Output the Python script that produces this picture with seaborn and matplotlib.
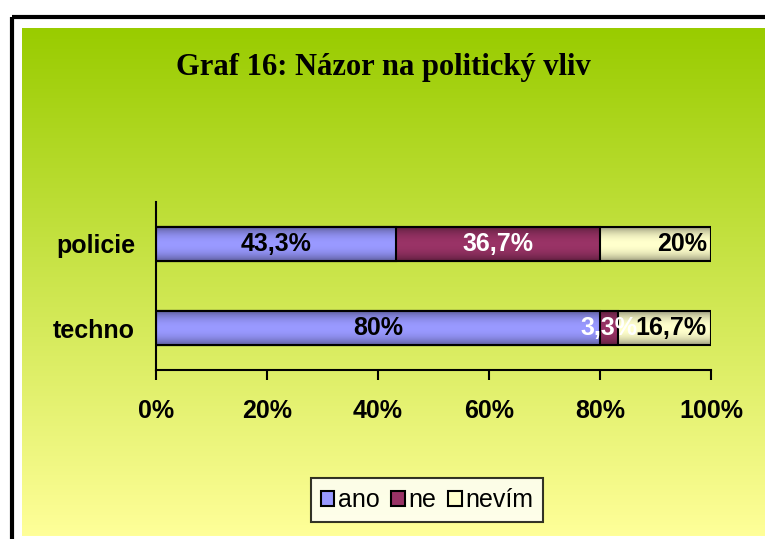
import numpy as np
import pandas as pd
import matplotlib
matplotlib.use('Agg')
import matplotlib.pyplot as plt
import seaborn as sns
from matplotlib.patches import Rectangle, Patch

categories = ['policie', 'techno']
series = ['ano', 'ne', 'nevím']
ano = [43.3, 80.0]
ne = [36.7, 3.3]
nevim = [20.0, 16.7]
labels_ano = ['43,3%', '80%']
labels_ne = ['36,7%', '3,3%']
labels_nevim = ['20%', '16,7%']
xticks = [0, 20, 40, 60, 80, 100]
xtick_labels = ['0%', '20%', '40%', '60%', '80%', '100%']
title = 'Graf 16: Názor na politický vliv'

colors = {'ano': '#9999FF', 'ne': '#993366', 'nevím': '#FFFFCC'}
text_colors = {'ano': 'black', 'ne': 'white', 'nevím': 'black'}
bar_w = 0.4

sns.set_style('white')
plt.rcParams['font.family'] = ['Liberation Sans', 'DejaVu Sans']
plt.rcParams.update({'text.color': 'black', 'xtick.color': 'black',
                     'ytick.color': 'black', 'axes.labelcolor': 'black'})

df = pd.DataFrame({'kategorie': categories, 'ano': ano, 'ne': ne, 'nevím': nevim})
df['c_ano'] = df['ano']
df['c_ne'] = df['ano'] + df['ne']
df['c_nevím'] = df['c_ne'] + df['nevím']
txt = {'ano': labels_ano, 'ne': labels_ne, 'nevím': labels_nevim}

fig = plt.figure(figsize=(7.65, 5.39), dpi=100)
fig.patch.set_facecolor('white')

# background: black frame + green->yellow gradient (pixel coords)
bg = fig.add_axes([0, 0, 1, 1], zorder=-10)
bg.set_xlim(0, 765)
bg.set_ylim(539, 0)
bg.axis('off')
top = np.array([0x99, 0xCC, 0x00]) / 255
bot = np.array([0xFF, 0xFF, 0x99]) / 255
t = np.linspace(0, 1, 256)[:, None]
grad = (top[None, :] * (1 - t) + bot[None, :] * t)[:, None, :]
bg.imshow(grad, extent=(22, 766, 536, 28), aspect='auto', interpolation='bilinear')
bg.add_patch(Rectangle((12, 16.5), 770, 540, fill=False, edgecolor='black', lw=3))

ax = fig.add_axes([156 / 765, 169 / 539, 555 / 765, 168 / 539])
ax.set_facecolor('none')

# stacked bars drawn as overlaid cumulative totals
for s in reversed(series):
    sns.barplot(data=df, x='c_' + s, y='kategorie', orient='h', color=colors[s],
                saturation=1, width=bar_w, edgecolor='black', linewidth=1.5, ax=ax)

# excel-like shading: darker towards top/bottom edge of each segment
u = np.linspace(-1, 1, 64)
shade = np.zeros((64, 2, 4))
shade[:, :, 3] = (0.38 * np.abs(u) ** 2.2)[:, None]
for s in series:
    for i in range(len(df)):
        right = df['c_' + s][i]
        left = right - df[s][i]
        ax.imshow(shade, extent=(left, right, i + bar_w / 2, i - bar_w / 2),
                  aspect='auto', interpolation='bilinear', zorder=1.5)

for s in ['nevím', 'ano', 'ne']:
    for i, lab in enumerate(txt[s]):
        if s == 'nevím':
            # Excel puts these flush against the right end of the bar
            ax.annotate(lab, (df['c_' + s][i], i), xytext=(-3, 0), textcoords='offset points',
                        ha='right', va='center', fontsize=18, fontweight='bold',
                        color=text_colors[s], zorder=3)
        else:
            cx = df['c_' + s][i] - df[s][i] / 2
            ax.text(cx, i, lab, ha='center', va='center', fontsize=18, fontweight='bold',
                    color=text_colors[s], zorder=3)

ax.set_xlim(0, 100)
ax.set_ylim(1.5, -0.5)
ax.set_aspect('auto')
ax.set_xticks(xticks)
ax.set_xticklabels(xtick_labels, fontsize=18, fontweight='bold')
ax.set_yticks(range(len(categories)))
ax.set_yticklabels(categories, fontsize=18, fontweight='bold')
ax.tick_params(axis='x', direction='out', length=7, width=1.5, pad=14, bottom=True)
ax.tick_params(axis='y', length=0, pad=15)
ax.set_xlabel('')
ax.set_ylabel('')
for side in ['top', 'right']:
    ax.spines[side].set_visible(False)
for side in ['left', 'bottom']:
    ax.spines[side].set_color('black')
    ax.spines[side].set_linewidth(1.5)

fig.text(383 / 765, 1 - 68 / 539, title, ha='center', va='center', fontsize=22,
         fontweight='bold', family=['Liberation Serif', 'DejaVu Serif'])

handles = [Patch(facecolor=colors[s], edgecolor='black', linewidth=1.5) for s in series]
leg = fig.legend(handles, series, loc='center', bbox_to_anchor=(427 / 765, 1 - 500 / 539),
                 ncol=3, fontsize=18, frameon=True, fancybox=False, handlelength=0.55,
                 handleheight=0.55, handletextpad=0.15, columnspacing=0.45, borderpad=0.4)
leg.get_frame().set_edgecolor('black')
leg.get_frame().set_linewidth(1.5)
leg.get_frame().set_facecolor('white')

fig.savefig('out.png', dpi=100)
